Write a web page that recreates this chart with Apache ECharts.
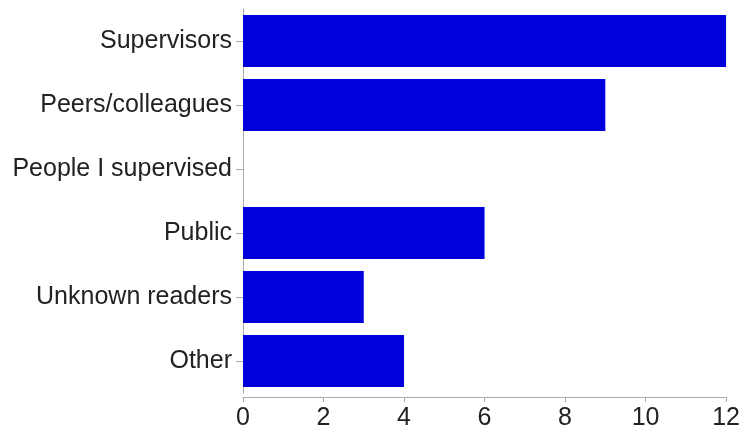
<!DOCTYPE html>
<html>
<head>
<meta charset="utf-8">
<script src="https://cdn.jsdelivr.net/npm/echarts@6/dist/echarts.min.js"></script>
<style>html,body{margin:0;padding:0;background:#fff}#c{width:743px;height:434px}</style>
</head>
<body>
<div id="c"></div>
<script>
var categories = ["Supervisors", "Peers/colleagues", "People I supervised", "Public", "Unknown readers", "Other"];
var values = [12, 9, 0, 6, 3, 4];
var xTicks = [0, 2, 4, 6, 8, 10, 12];

var chart = echarts.init(document.getElementById('c'), null, {renderer: 'canvas'});
chart.setOption({
  animation: false,
  backgroundColor: '#ffffff',
  grid: {left: 243, right: 16, top: 9, bottom: 41, containLabel: false},
  xAxis: {
    type: 'value',
    min: xTicks[0],
    max: xTicks[xTicks.length - 1],
    interval: 2,
    offset: 4,
    axisLine: {show: true, lineStyle: {color: '#aaaaaa', width: 1}},
    axisTick: {show: true, length: 5, lineStyle: {color: '#aaaaaa'}},
    splitLine: {show: false},
    axisLabel: {color: '#222222', fontSize: 25, fontFamily: 'Liberation Sans, Arial, sans-serif', margin: 9}
  },
  yAxis: {
    type: 'category',
    inverse: true,
    data: categories,
    axisLine: {show: true, lineStyle: {color: '#aaaaaa', width: 1}},
    axisTick: {show: true, alignWithLabel: true, length: 7, lineStyle: {color: '#aaaaaa'}},
    axisLabel: {color: '#222222', fontSize: 25, fontFamily: 'Liberation Sans, Arial, sans-serif', margin: 11}
  },
  series: [{
    type: 'bar',
    data: values,
    barCategoryGap: '19%',
    itemStyle: {color: '#0000dd'}
  }]
});
</script>
</body>
</html>
